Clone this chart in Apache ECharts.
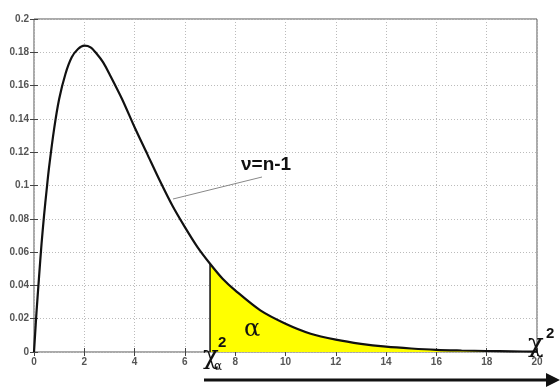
<!DOCTYPE html>
<html><head><meta charset="utf-8">
<script src="https://cdn.jsdelivr.net/npm/echarts@6/dist/echarts.min.js"></script>
<style>html,body{margin:0;padding:0;background:#fff}#c{width:560px;height:390px}</style>
</head><body><div id="c"></div>
<script>
// values
var xs = [0,0.1,0.2,0.3,0.4,0.5,0.6,0.8,1,1.25,1.5,1.75,2,2.25,2.5,2.75,3,3.5,4,4.5,5,5.5,6,6.5,7,7.5,8,9,10,11,12,13,14,15,16,17,18,19,20];
var ys = [0,0.024,0.045,0.065,0.082,0.097,0.111,0.134,0.152,0.167,0.177,0.182,0.184,0.183,0.179,0.174,0.167,0.152,0.135,0.119,0.103,0.088,0.075,0.063,0.053,0.044,0.037,0.025,0.017,0.011,0.0074,0.0049,0.0032,0.0021,0.0013,0.0009,0.0006,0.0004,0.0002];
var critX = 7;           // chi-square alpha critical value
var xTicks = [0,2,4,6,8,10,12,14,16,18,20];
var yTicks = [0,0.02,0.04,0.06,0.08,0.1,0.12,0.14,0.16,0.18,0.2];

var curve = xs.map(function(x,i){return [x, ys[i]];});
var tail = curve.filter(function(p){return p[0] >= critX;});
var critY = ys[xs.indexOf(critX)];

var chart = echarts.init(document.getElementById('c'));
var lbl = {color:'#555', fontSize:10, fontWeight:'bold', fontFamily:'Arial'};
function xa(pos, show){return {type:'value', min:0, max:20, interval:2, position:pos,
  axisLine:{show:false}, axisTick:{show:true, inside:true, length:4, lineStyle:{color:'#444'}},
  axisLabel:Object.assign({show:show, margin:5}, lbl),
  splitLine:{show:show, lineStyle:{type:[1,2], color:'#bbb'}}};}
function ya(pos, show){return {type:'value', min:0, max:0.2, interval:0.02, position:pos,
  axisLine:{show:false}, axisTick:{show:true, inside:true, length:4, lineStyle:{color:'#444'}},
  axisLabel:Object.assign({show:show, margin:5, formatter:function(v){return String(+v.toFixed(2));}}, lbl),
  splitLine:{show:show, lineStyle:{type:[1,2], color:'#bbb'}}};}
chart.setOption({
  animation:false,
  grid:{left:34, right:23, top:19, bottom:38, show:true, borderColor:'#555', borderWidth:1, backgroundColor:'transparent'},
  xAxis:[xa('bottom', true), xa('top', false)],
  yAxis:[ya('left', true), ya('right', false)],
  series:[
    {type:'line', data:tail, smooth:0.3, symbol:'none', lineStyle:{width:0}, areaStyle:{color:'#ffff00', opacity:1}, z:1},
    {type:'line', data:[[critX,0],[critX,critY]], symbol:'none', lineStyle:{color:'#111', width:1.5}, z:3},
    {type:'line', data:curve, smooth:0.3, symbol:'none', lineStyle:{color:'#111', width:2.2}, z:4}
  ]
});
chart.setOption({graphic:[
  {type:'line', z:100, shape:{x1:173,y1:199,x2:262,y2:177}, style:{stroke:'#888', lineWidth:1}},
  {type:'text', z:100, x:241, y:155, style:{text:'ν=n-1', font:'bold 19px Arial', fill:'#111'}},
  {type:'text', z:100, x:244, y:318, style:{text:'α', font:'24px "DejaVu Serif"', fill:'#111'}},
  {type:'text', z:100, x:203, y:344, style:{text:'χ', font:'26px "DejaVu Serif"', fill:'#111'}},
  {type:'text', z:100, x:214, y:361, style:{text:'α', font:'12px "DejaVu Serif"', fill:'#111'}},
  {type:'text', z:100, x:218, y:335, style:{text:'2', font:'bold 15px Arial', fill:'#111'}},
  {type:'text', z:100, x:528, y:332, style:{text:'χ', font:'26px "DejaVu Serif"', fill:'#111'}},
  {type:'text', z:100, x:546, y:326, style:{text:'2', font:'bold 15px Arial', fill:'#111'}},
  {type:'line', z:100, shape:{x1:204,y1:380,x2:548,y2:380}, style:{stroke:'#111', lineWidth:3}},
  {type:'polygon', z:100, shape:{points:[[546,373],[560,380],[546,387]]}, style:{fill:'#111'}}
]});
</script></body></html>
